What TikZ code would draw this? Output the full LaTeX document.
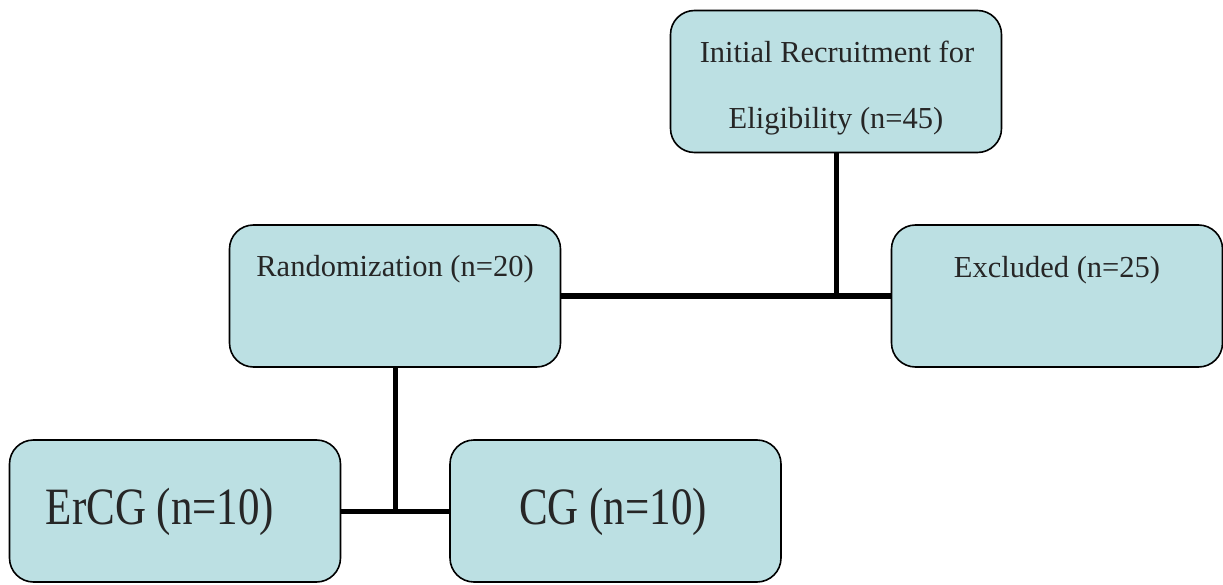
\documentclass[tikz,border=0pt]{standalone}
\usepackage{fontspec}
\setmainfont{Liberation Serif}
\definecolor{boxfill}{HTML}{BCE0E3}
\newcommand{\tallbox}[1]{\scalebox{1}[1.22]{#1}}
\tikzset{
  box/.style={draw=black, line width=1.6pt, fill=boxfill, rounded corners=24pt,
              minimum width=331pt, minimum height=142pt, inner sep=0pt},
  conn/.style={draw=black, line width=5pt},
  lbl/.style={font=\fontsize{30.5}{36}\selectfont, inner sep=0pt, text=black!85},
  big/.style={font=\fontsize{43}{50}\selectfont, inner sep=0pt, text=black!85}
}
\begin{document}
\begin{tikzpicture}[x=1pt,y=-1pt]
\useasboundingbox (0,0) rectangle (1223,585);
\node[box] (init) at (836,81.5) {};
\node[lbl] (initA) at (837,52) {Initial Recruitment for};
\node[lbl] (initB) at (836,121) {Eligibility (n=45)};
\node[box] (rand) at (395,296) {};
\node[lbl] (randt) at (395,269) {Randomization (n=20)};
\node[box] (excl) at (1057,296) {};
\node[lbl] (exclt) at (1057,270) {Excluded (n=25)};
\node[box] (ercg) at (175,511) {};
\node[big] (ercgt) at (160,512) {\tallbox{ErCG (n=10)}};
\node[box] (cg) at (615.5,511) {};
\node[big] (cgtext) at (613,512) {\tallbox{CG (n=10)}};
\draw[conn] (rand.east) -- (excl.west);
\draw[conn] (init.south) -- (init.south |- rand.east);
\draw[conn] (ercg.east) -- (cg.west);
\draw[conn] (rand.south) -- (rand.south |- ercg.east);
\end{tikzpicture}
\end{document}
